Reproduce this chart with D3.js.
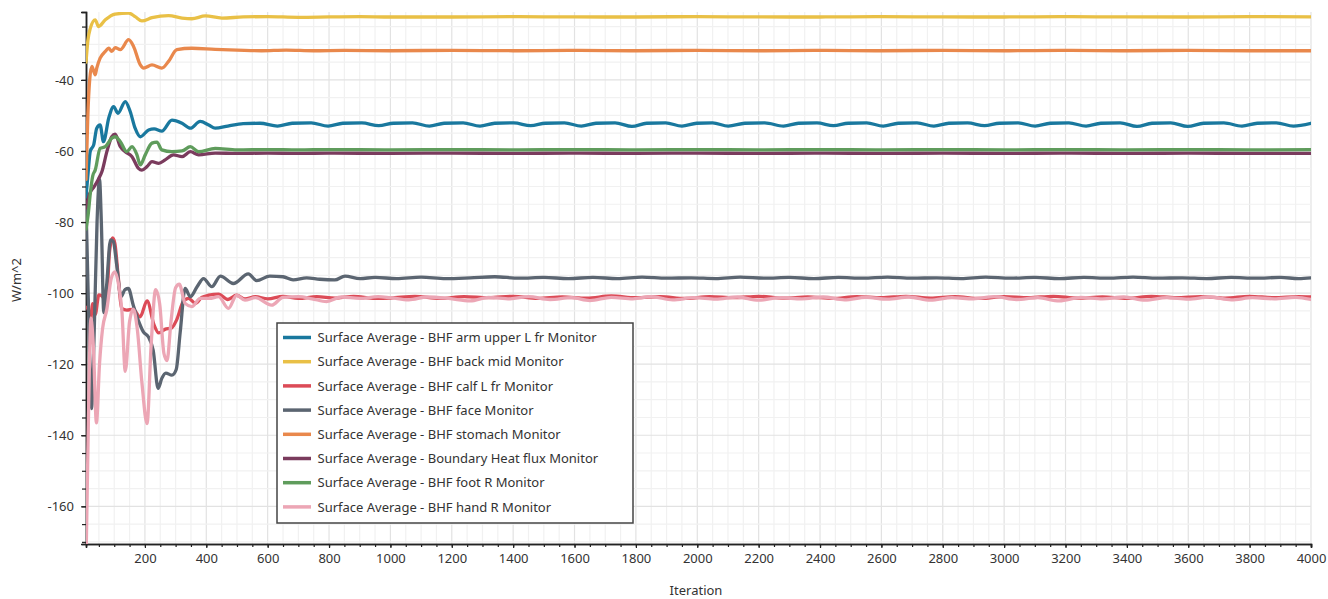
<!DOCTYPE html>
<html><head><meta charset="utf-8">
<script src="https://cdn.jsdelivr.net/npm/d3@7"></script>
<style>
body{margin:0;background:#fff}
text{font-family:"Noto Sans",sans-serif}
</style></head>
<body><svg id="c" width="1328" height="599"></svg>
<script>
// ---------- data ----------
const seriesNames = [
  "Surface Average - BHF arm upper L fr Monitor",
  "Surface Average - BHF back mid Monitor",
  "Surface Average - BHF calf L fr Monitor",
  "Surface Average - BHF face Monitor",
  "Surface Average - BHF stomach Monitor",
  "Surface Average - Boundary Heat flux Monitor",
  "Surface Average - BHF foot R Monitor",
  "Surface Average - BHF hand R Monitor"
];
const seriesColors = ["#19789e","#e9c046","#dc4b57","#5b6571","#e9884c","#7a3b5d","#5f9c5c","#eca6b5"];

const xTickLabels = [200,400,600,800,1000,1200,1400,1600,1800,2000,2200,2400,2600,2800,3000,3200,3400,3600,3800,4000];
const yTickLabels = [-160,-140,-120,-100,-80,-60,-40];

// [iteration, W/m^2]
const armUpperL = [[8,-73],[15,-66],[22,-60],[33,-58.3],[43,-53.6],[54,-52.7],[65,-57.4],[82,-50.8],[98,-47.5],[112,-49.4],[136,-46.1],[152,-48.9],[168,-53.6],[185,-56.0],[212,-54.1],[230,-53.8],[255,-54.4],[288,-51.3],[321,-52.2],[348,-53.6],[380,-51.7],[408,-52.7],[429,-53.6],[470,-53.0],[520,-52.3],[575,-52.2],
  [632,-53.0],[680,-52.2],[742,-52.1],[797,-53.0],[845,-52.2],[907,-52.1],[962,-52.9],[1010,-52.2],[1072,-52.1],[1127,-53.0],[1175,-52.2],[1237,-52.1],[1292,-53.0],[1340,-52.2],[1402,-52.1],[1457,-52.9],[1505,-52.2],[1567,-52.1],[1622,-53.0],[1670,-52.2],[1732,-52.1],[1787,-53.1],[1835,-52.2],[1897,-52.1],[1950,-53.0],[1998,-52.2],[2050,-52.1],[2101,-53.0],[2155,-52.2],[2220,-52.1],[2281,-53.0],[2330,-52.2],[2390,-52.1],[2444,-52.9],[2492,-52.2],[2552,-52.1],[2606,-53.0],[2655,-52.2],[2716,-52.1],[2771,-53.0],[2820,-52.2],[2881,-52.1],[2936,-52.9],[2985,-52.2],[3046,-52.1],[3101,-53.0],[3150,-52.2],[3211,-52.1],[3267,-53.0],[3315,-52.2],[3378,-52.1],[3433,-53.1],[3482,-52.2],[3543,-52.1],[3598,-53.1],[3650,-52.2],[3716,-52.1],[3775,-53.0],[3825,-52.2],[3887,-52.1],[3943,-53.0],[4000,-52.2]];

const backMid = [[8,-35],[14,-29],[22,-25.5],[38,-23.1],[49,-25.0],[71,-23.1],[103,-21.5],[147,-21.2],[168,-22.2],[190,-23.4],[223,-22.5],[277,-21.9],[321,-22.6],[353,-22.8],[397,-22.0],[451,-22.6],[520,-22.3],[600,-22.2],[700,-22.4],[800,-22.3],[900,-22.2],[1000,-22.3],[1200,-22.3],[1400,-22.2],[1600,-22.3],[1800,-22.3],[2000,-22.2],[2200,-22.3],[2400,-22.3],[2600,-22.2],[2800,-22.3],[3000,-22.3],[3200,-22.2],[3400,-22.3],[3600,-22.3],[3800,-22.2],[4000,-22.3]];

const calfL = [[8,-104],[15,-104.5],[22,-108],[30,-103],[38,-106],[50,-100.5],[62,-101],[74,-103],[85,-88],[95,-84.5],[102,-86],[113,-95.4],[124,-104.3],[141,-104.8],[162,-104.5],[184,-106.7],[207,-102.2],[230,-109],[245,-111.2],[265,-110.2],[287,-109.8],[303,-107.6],[325,-102.4],[342,-101.5],[365,-102.9],[385,-101.2],[408,-100.6],[440,-100.3],[470,-101.8],[499,-100.6],[526,-101.6],[560,-101.0],[600,-101.6],[650,-100.9],[700,-101.5],[760,-101.0],[820,-101.4],[880,-100.9],[950,-101.5],
  [1000,-101.4],[1080,-100.9],[1160,-101.5],[1240,-101.0],[1320,-101.3],[1400,-100.9],[1480,-101.5],[1560,-101.1],[1640,-101.4],[1720,-100.8],[1800,-101.3],[1880,-101.0],[1960,-101.5],[2040,-101.0],[2120,-101.3],[2200,-100.9],[2280,-101.4],[2360,-101.1],[2440,-101.5],[2520,-101.0],[2600,-101.3],[2680,-100.9],[2760,-101.4],[2840,-101.0],[2920,-101.5],[3000,-101.0],[3080,-101.3],[3160,-100.9],[3240,-101.4],[3320,-101.1],[3400,-101.5],[3480,-100.9],[3560,-101.3],[3640,-101.0],[3720,-101.4],[3800,-100.9],[3880,-101.3],[3960,-101.0],[4000,-101.1]];

const face = [[8,-75],[15,-100],[26,-132.5],[35,-110],[44,-80],[52,-68],[58,-80],[66,-105.5],[75,-98],[88,-85],[97,-85.5],[108,-92],[122,-101],[135,-99],[146,-98.7],[162,-103.4],[180,-108],[195,-110.9],[211,-112.3],[227,-116.1],[243,-126.8],[255,-124],[268,-122.5],[288,-123.1],[302,-121.5],[315,-111],[331,-98.7],[348,-101],[370,-98.2],[391,-95.9],[418,-98.2],[446,-95.2],[488,-97.3],[537,-94.6],[564,-96.5],[607,-95.2],[650,-95.4],[683,-96.3],[727,-95.7],[770,-96.1],[819,-96.3],[852,-95.2],[901,-95.9],
  [950,-95.6],[1020,-95.9],[1100,-95.5],[1180,-95.9],[1260,-95.7],[1340,-95.4],[1420,-95.8],[1500,-95.6],[1580,-95.9],[1660,-95.6],[1740,-95.9],[1820,-95.5],[1900,-95.8],[1980,-95.7],[2060,-95.9],[2140,-95.5],[2220,-95.8],[2300,-95.6],[2380,-95.9],[2460,-95.6],[2540,-95.8],[2620,-95.5],[2700,-95.8],[2780,-95.7],[2860,-95.9],[2940,-95.5],[3020,-95.8],[3100,-95.6],[3180,-95.9],[3260,-95.6],[3340,-95.8],[3420,-95.5],[3500,-95.8],[3580,-95.7],[3660,-95.9],[3740,-95.6],[3820,-95.8],[3900,-95.6],[3960,-95.9],[4000,-95.7]];

const stomach = [[8,-68],[14,-50],[20,-40],[27,-36.2],[38,-38.6],[43,-36.7],[54,-33.9],[71,-32.0],[82,-31.1],[92,-32.0],[103,-30.9],[120,-31.5],[147,-28.7],[163,-30.6],[185,-35.8],[196,-36.7],[223,-35.8],[255,-36.7],[277,-34.8],[304,-31.5],[353,-31.1],[429,-31.4],[500,-31.6],[580,-31.8],[660,-31.6],[750,-31.8],[850,-31.7],[1000,-31.8],[1200,-31.7],[1400,-31.8],[1600,-31.7],[1800,-31.8],[2000,-31.7],[2200,-31.8],[2400,-31.7],[2600,-31.8],[2800,-31.7],[3000,-31.8],[3200,-31.7],[3400,-31.8],[3600,-31.7],[3800,-31.8],[4000,-31.8]];

const boundaryHF = [[8,-76],[20,-72],[35,-70],[48,-68],[60,-65.8],[76,-60.2],[92,-56.0],[103,-55.3],[120,-58.8],[136,-60.2],[158,-61.6],[179,-64.9],[190,-65.4],[207,-64.4],[223,-63.0],[245,-63.5],[266,-62.5],[293,-61.1],[321,-61.6],[348,-60.2],[375,-61.1],[429,-60.6],[500,-60.7],[600,-60.6],[700,-60.7],[800,-60.6],[1000,-60.7],[1200,-60.6],[1400,-60.7],[1600,-60.6],[1800,-60.7],[2000,-60.6],[2200,-60.7],[2400,-60.6],[2600,-60.7],[2800,-60.6],[3000,-60.7],[3200,-60.6],[3400,-60.7],[3600,-60.6],[3800,-60.7],[4000,-60.7]];

const footR = [[8,-82],[15,-78],[22,-72],[30,-67],[38,-65.4],[54,-59.3],[71,-58.8],[92,-56.4],[103,-56.0],[120,-57.4],[141,-60.2],[158,-58.8],[174,-61.1],[185,-63.9],[201,-61.1],[223,-57.8],[239,-57.5],[255,-59.7],[288,-60.2],[321,-60.0],[348,-58.8],[375,-60.2],[429,-59.3],[500,-59.7],[600,-59.6],[700,-59.7],[800,-59.6],[1000,-59.7],[1200,-59.6],[1400,-59.7],[1600,-59.6],[1800,-59.7],[2000,-59.6],[2200,-59.7],[2400,-59.6],[2600,-59.7],[2800,-59.6],[3000,-59.7],[3200,-59.6],[3400,-59.7],[3600,-59.6],[3800,-59.7],[4000,-59.6]];

const handR = [[8,-176],[16,-135],[24,-107],[32,-115],[42,-136.5],[52,-120],[62,-110],[76,-104.5],[90,-96],[102,-94],[114,-97.5],[125,-105],[136,-122],[150,-108],[162,-104.5],[175,-110],[190,-125],[207,-136.7],[220,-115],[235,-99],[248,-103],[262,-117],[272,-119],[285,-108],[300,-98.5],[312,-97.5],[331,-102.9],[353,-103.8],[380,-101.5],[410,-101.5],[440,-101.0],[472,-104.3],[499,-100.6],[526,-102.0],[560,-101.3],[613,-103.4],[650,-101.2],[700,-101.0],[745,-101.6],[792,-102.4],[840,-101.1],[900,-101.5],[960,-101.0],
  [1000,-101.3],[1060,-101.9],[1120,-101.1],[1190,-101.5],[1260,-102.2],[1320,-101.2],[1390,-101.6],[1450,-101.0],[1520,-101.8],[1590,-101.3],[1650,-102.1],[1720,-101.2],[1790,-101.6],[1850,-101.0],[1920,-101.9],[1990,-101.3],[2060,-101.7],[2130,-101.1],[2200,-102.0],[2270,-101.3],[2340,-101.6],[2410,-101.1],[2480,-101.9],[2550,-101.2],[2620,-101.7],[2690,-101.1],[2760,-102.0],[2830,-101.3],[2900,-101.6],[2970,-101.0],[3040,-101.8],[3110,-101.3],[3180,-102.2],[3250,-101.2],[3320,-101.6],[3390,-101.1],[3460,-102.0],[3530,-101.3],[3600,-101.7],[3670,-101.1],[3740,-101.9],[3810,-101.3],[3880,-101.6],[3950,-101.2],[4000,-101.8]];

const seriesData = [armUpperL, backMid, calfL, face, stomach, boundaryHF, footR, handR];

// ---------- chart ----------
const svg = d3.select("#c");
const L = 86, R = 1311, T = 12, B = 544;
const x = d3.scaleLinear().domain([8,4000]).range([L,R]);
const y = d3.scaleLinear().domain([-170.6,-20.9]).range([B,T]);

svg.append("defs").append("clipPath").attr("id","clip")
  .append("rect").attr("x",L).attr("y",T).attr("width",R-L).attr("height",B-T);

// grid
const xMinor = d3.range(50,4001,50);
const yMinor = d3.range(-170,-20,5);
const g = svg.append("g");
g.selectAll("line.vx").data(xMinor).join("line")
  .attr("x1",d=>x(d)).attr("x2",d=>x(d)).attr("y1",T).attr("y2",B)
  .attr("stroke",d=> d%200===0 ? "#e2e2e2" : "#f1f1f1").attr("stroke-width",1.2);
g.selectAll("line.hy").data(yMinor).join("line")
  .attr("y1",d=>y(d)).attr("y2",d=>y(d)).attr("x1",L).attr("x2",R)
  .attr("stroke",d=> d%20===0 ? "#e2e2e2" : "#f1f1f1").attr("stroke-width",1.2);

// axes
const axColor = "#222", txtColor = "#333";
const fmt = d => String(d);
const xAxisMinor = d3.axisBottom(x).tickValues(xMinor).tickSize(3).tickFormat("");
const xAxisMajor = d3.axisBottom(x).tickValues(xTickLabels).tickSize(4).tickPadding(6).tickFormat(fmt);
const yAxisMinor = d3.axisLeft(y).tickValues(yMinor).tickSize(4).tickFormat("");
const yAxisMajor = d3.axisLeft(y).tickValues(yTickLabels).tickSize(5).tickPadding(7).tickFormat(fmt);

function styleAxis(sel){
  sel.selectAll("path").attr("stroke",axColor).attr("stroke-width",1.5);
  sel.selectAll("line").attr("stroke",axColor).attr("stroke-width",1.2);
  sel.selectAll("text").attr("fill",txtColor).style("font-size","13px").style("font-family","'Noto Sans',sans-serif");
}
svg.append("g").attr("transform",`translate(0,${B})`).call(xAxisMinor).call(styleAxis);
svg.append("g").attr("transform",`translate(0,${B})`).call(xAxisMajor).call(styleAxis);
svg.append("g").attr("transform",`translate(${L},0)`).call(yAxisMinor).call(styleAxis);
svg.append("g").attr("transform",`translate(${L},0)`).call(yAxisMajor).call(styleAxis);

// lines
const line = d3.line().x(d=>x(d[0])).y(d=>y(d[1])).curve(d3.curveMonotoneX);
const lg = svg.append("g").attr("clip-path","url(#clip)");
seriesData.forEach((s,i)=>{
  lg.append("path").datum(s).attr("d",line).attr("fill","none")
    .attr("stroke",seriesColors[i]).attr("stroke-width",3.3)
    .attr("stroke-linejoin","round").attr("stroke-linecap","round");
});

// axis titles
svg.append("text").attr("x",696).attr("y",595).attr("text-anchor","middle")
  .attr("fill",txtColor).style("font-size","13px").text("Iteration");
svg.append("text").attr("transform","translate(21,280) rotate(-90)").attr("text-anchor","middle")
  .attr("fill",txtColor).style("font-size","13px").text("W/m^2");

// legend
const lgX = 277, lgY = 323, lgW = 356, lgH = 200, rowH = 24.2;
const leg = svg.append("g");
leg.append("rect").attr("x",lgX).attr("y",lgY).attr("width",lgW).attr("height",lgH)
  .attr("fill","#fff").attr("stroke","#444").attr("stroke-width",1.5);
seriesNames.forEach((n,i)=>{
  const cy = lgY + 14.5 + i*rowH;
  leg.append("line").attr("x1",lgX+6).attr("x2",lgX+34).attr("y1",cy).attr("y2",cy)
    .attr("stroke",seriesColors[i]).attr("stroke-width",3.5);
  leg.append("text").attr("x",lgX+40.5).attr("y",cy+4.6).attr("fill",txtColor)
    .style("font-size","13px").text(n);
});
</script>
</body></html>
